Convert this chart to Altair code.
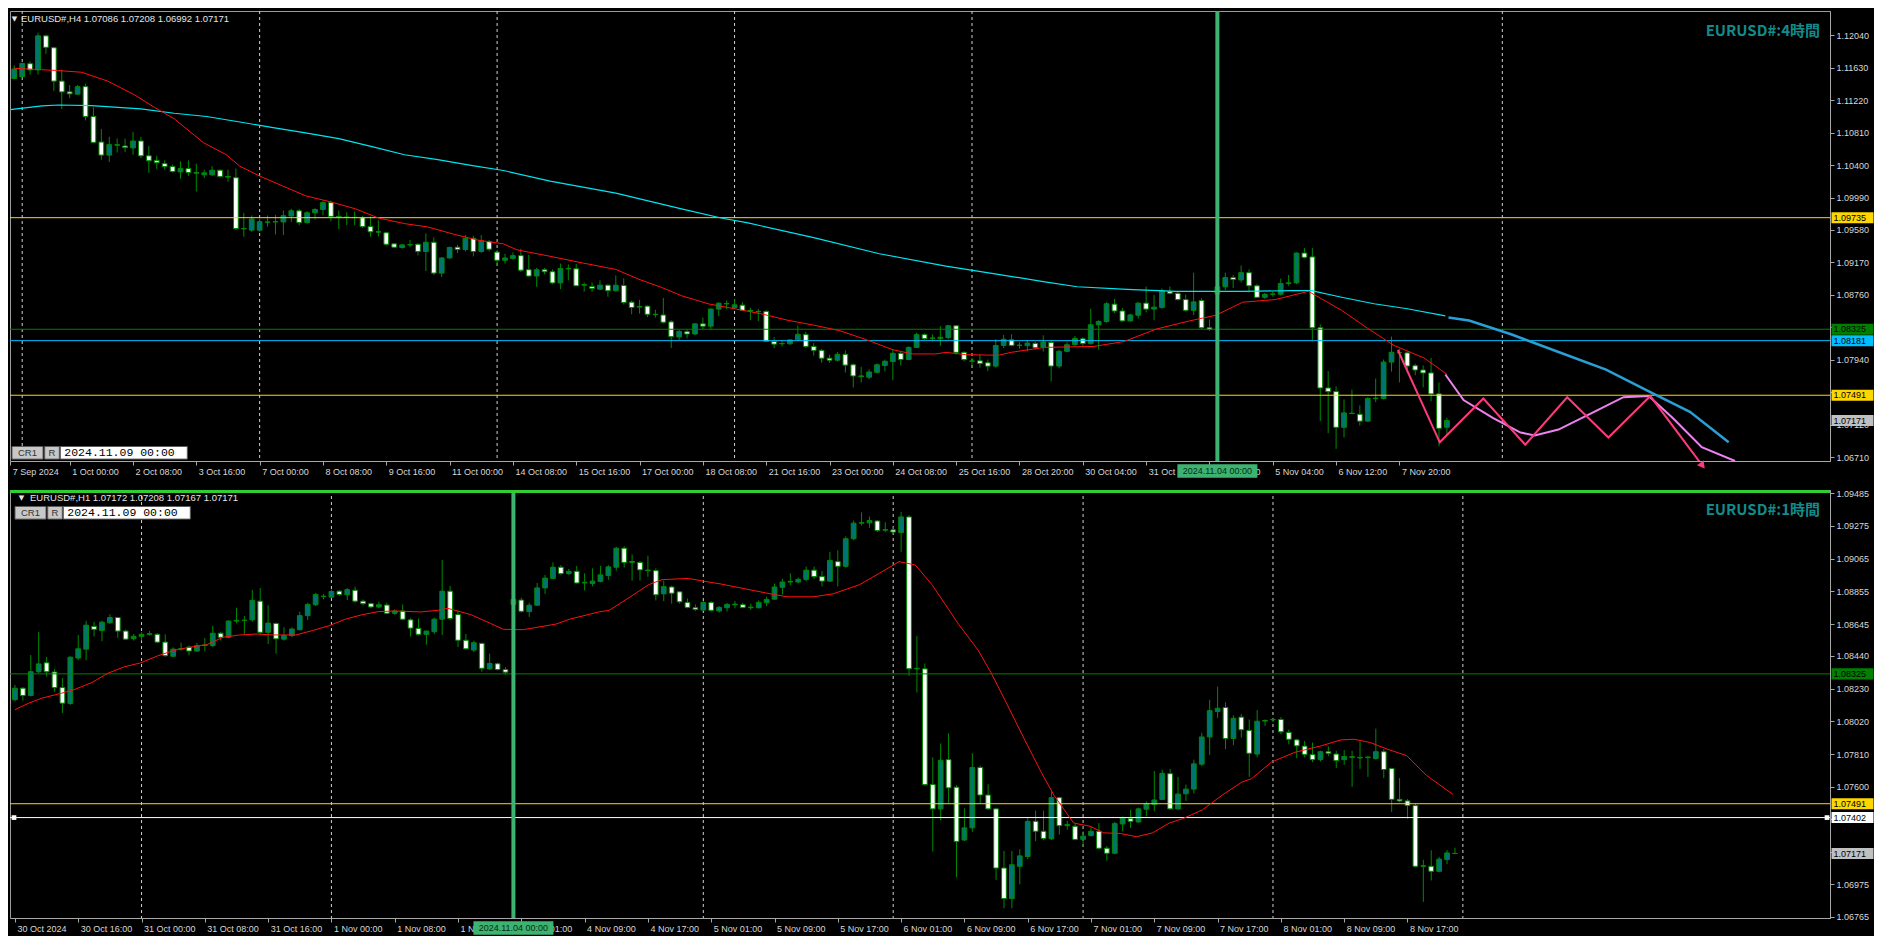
import altair as alt
import pandas as pd

# ======================= H4 panel data =======================
top_open = [
    1.11494, 1.11519, 1.11681, 1.11602, 1.12033, 1.11883, 1.11461, 1.11325, 1.11296, 1.11391,
    1.11014, 1.10691, 1.10526, 1.10650, 1.10641, 1.10617, 1.10704, 1.10517, 1.10459, 1.10418,
    1.10381, 1.10314, 1.10356, 1.10306, 1.10277, 1.10277, 1.10335, 1.10256, 1.10240, 1.09598,
    1.09577, 1.09577, 1.09677, 1.09681, 1.09681, 1.09756, 1.09822, 1.09673, 1.09797, 1.09838,
    1.09925, 1.09751, 1.09743, 1.09739, 1.09735, 1.09623, 1.09557, 1.09544, 1.09404, 1.09358,
    1.09391, 1.09399, 1.09308, 1.09424, 1.09035, 1.09226, 1.09362, 1.09333, 1.09474, 1.09308,
    1.09433, 1.09300, 1.09197, 1.09221, 1.09255, 1.09077, 1.08998, 1.09077, 1.09052, 1.08911,
    1.09093, 1.09089, 1.08882, 1.08865, 1.08832, 1.08882, 1.08812, 1.08878, 1.08667, 1.08605,
    1.08617, 1.08514, 1.08505, 1.08418, 1.08228, 1.08294, 1.08265, 1.08393, 1.08364, 1.08580,
    1.08646, 1.08600, 1.08629, 1.08563, 1.08551, 1.08551, 1.08170, 1.08141, 1.08141, 1.08191,
    1.08257, 1.08108, 1.08058, 1.07959, 1.07934, 1.08008, 1.07876, 1.07735, 1.07719, 1.07781,
    1.07868, 1.07917, 1.08021, 1.07942, 1.08095, 1.08257, 1.08211, 1.08207, 1.08220, 1.08369,
    1.08033, 1.07921, 1.07926, 1.07901, 1.07859, 1.08121, 1.08191, 1.08121, 1.08117, 1.08146,
    1.08100, 1.08158, 1.07860, 1.08046, 1.08129, 1.08204, 1.08146, 1.08382, 1.08423, 1.08642,
    1.08556, 1.08431, 1.08502, 1.08655, 1.08580, 1.08601, 1.08804, 1.08779, 1.08700, 1.08564,
    1.08688, 1.08344, 1.08771, 1.08862, 1.08978, 1.08949, 1.09040, 1.08874, 1.08729, 1.08767,
    1.08767, 1.08903, 1.08912, 1.09288, 1.09239, 1.08344, 1.07583, 1.07537, 1.07086, 1.07264,
    1.07251, 1.07164, 1.07450, 1.07450, 1.07910, 1.08030, 1.08026, 1.07864, 1.07810, 1.07773,
    1.07508, 1.07086]
top_high = [
    1.11660, 1.11689, 1.11710, 1.12074, 1.12049, 1.11896, 1.11606, 1.11412, 1.11412, 1.11428,
    1.11130, 1.10857, 1.10757, 1.10737, 1.10733, 1.10819, 1.10757, 1.10641, 1.10517, 1.10459,
    1.10405, 1.10447, 1.10459, 1.10418, 1.10343, 1.10385, 1.10343, 1.10343, 1.10356, 1.09797,
    1.09764, 1.09722, 1.09764, 1.09772, 1.09826, 1.09847, 1.09847, 1.09818, 1.09855, 1.09950,
    1.09950, 1.09826, 1.09805, 1.09813, 1.09756, 1.09751, 1.09702, 1.09557, 1.09416, 1.09408,
    1.09453, 1.09412, 1.09536, 1.09486, 1.09238, 1.09370, 1.09391, 1.09515, 1.09507, 1.09515,
    1.09453, 1.09329, 1.09279, 1.09296, 1.09342, 1.09267, 1.09101, 1.09101, 1.09081, 1.09155,
    1.09143, 1.09151, 1.08915, 1.08915, 1.08944, 1.08894, 1.09006, 1.08969, 1.08687, 1.08696,
    1.08625, 1.08571, 1.08721, 1.08439, 1.08315, 1.08323, 1.08406, 1.08472, 1.08592, 1.08667,
    1.08687, 1.08708, 1.08667, 1.08596, 1.08584, 1.08563, 1.08224, 1.08182, 1.08199, 1.08369,
    1.08294, 1.08149, 1.08075, 1.08004, 1.08037, 1.08058, 1.07893, 1.07851, 1.07818, 1.07893,
    1.07942, 1.08075, 1.08046, 1.08108, 1.08282, 1.08273, 1.08261, 1.08364, 1.08381, 1.08377,
    1.08046, 1.07963, 1.08004, 1.07942, 1.08199, 1.08253, 1.08262, 1.08162, 1.08183, 1.08166,
    1.08249, 1.08191, 1.08067, 1.08158, 1.08241, 1.08224, 1.08584, 1.08440, 1.08667, 1.08709,
    1.08593, 1.08522, 1.08667, 1.08866, 1.08758, 1.08841, 1.08866, 1.08800, 1.08763, 1.09040,
    1.08717, 1.08448, 1.08895, 1.09040, 1.09011, 1.09131, 1.09081, 1.08895, 1.08783, 1.08804,
    1.08965, 1.09011, 1.09297, 1.09350, 1.09350, 1.08386, 1.07798, 1.07603, 1.07438, 1.07562,
    1.07363, 1.07467, 1.07703, 1.07943, 1.08233, 1.08079, 1.08046, 1.07889, 1.07868, 1.07963,
    1.07653, 1.07208]
top_low = [
    1.11482, 1.11511, 1.11544, 1.11544, 1.11805, 1.11337, 1.11109, 1.11246, 1.11287, 1.10964,
    1.10675, 1.10468, 1.10439, 1.10559, 1.10563, 1.10530, 1.10488, 1.10302, 1.10352, 1.10343,
    1.10306, 1.10227, 1.10261, 1.10066, 1.10236, 1.10261, 1.10240, 1.10190, 1.09577, 1.09495,
    1.09557, 1.09557, 1.09623, 1.09524, 1.09515, 1.09681, 1.09640, 1.09660, 1.09714, 1.09764,
    1.09689, 1.09590, 1.09640, 1.09640, 1.09606, 1.09495, 1.09495, 1.09383, 1.09350, 1.09342,
    1.09362, 1.09259, 1.09060, 1.09010, 1.08985, 1.09217, 1.09288, 1.09308, 1.09246, 1.09288,
    1.09308, 1.09122, 1.09155, 1.09205, 1.09048, 1.08985, 1.08861, 1.09019, 1.08894, 1.08832,
    1.08944, 1.08870, 1.08799, 1.08799, 1.08820, 1.08737, 1.08800, 1.08638, 1.08514, 1.08522,
    1.08480, 1.08472, 1.08398, 1.08087, 1.08191, 1.08211, 1.08253, 1.08323, 1.08323, 1.08489,
    1.08580, 1.08580, 1.08555, 1.08439, 1.08427, 1.08162, 1.08087, 1.08108, 1.08128, 1.08178,
    1.08091, 1.07992, 1.07901, 1.07901, 1.07917, 1.07777, 1.07590, 1.07652, 1.07694, 1.07768,
    1.07793, 1.07681, 1.07868, 1.07934, 1.08087, 1.08191, 1.08170, 1.08116, 1.08199, 1.08004,
    1.07921, 1.07851, 1.07839, 1.07797, 1.07839, 1.08088, 1.08108, 1.08079, 1.08046, 1.08067,
    1.08042, 1.07665, 1.07831, 1.08034, 1.08117, 1.08117, 1.08129, 1.08067, 1.08406, 1.08531,
    1.08419, 1.08419, 1.08460, 1.08539, 1.08440, 1.08584, 1.08763, 1.08688, 1.08551, 1.08502,
    1.08328, 1.08303, 1.08750, 1.08820, 1.08845, 1.08916, 1.08791, 1.08721, 1.08709, 1.08738,
    1.08750, 1.08874, 1.08895, 1.09218, 1.08191, 1.07164, 1.07011, 1.06813, 1.06957, 1.07251,
    1.07107, 1.07156, 1.07405, 1.07438, 1.07790, 1.07653, 1.07769, 1.07744, 1.07591, 1.07417,
    1.06846, 1.06992]
top_close = [
    1.11614, 1.11685, 1.11602, 1.12033, 1.11888, 1.11461, 1.11325, 1.11300, 1.11391, 1.11014,
    1.10687, 1.10526, 1.10658, 1.10658, 1.10621, 1.10704, 1.10517, 1.10455, 1.10430, 1.10381,
    1.10319, 1.10356, 1.10306, 1.10298, 1.10302, 1.10335, 1.10256, 1.10248, 1.09598, 1.09594,
    1.09718, 1.09685, 1.09681, 1.09685, 1.09760, 1.09822, 1.09673, 1.09797, 1.09838, 1.09925,
    1.09751, 1.09743, 1.09739, 1.09735, 1.09623, 1.09557, 1.09553, 1.09399, 1.09362, 1.09391,
    1.09395, 1.09308, 1.09424, 1.09035, 1.09226, 1.09358, 1.09333, 1.09474, 1.09308, 1.09441,
    1.09337, 1.09197, 1.09226, 1.09255, 1.09072, 1.08998, 1.09077, 1.09052, 1.08911, 1.09093,
    1.09089, 1.08874, 1.08890, 1.08841, 1.08882, 1.08812, 1.08882, 1.08663, 1.08600, 1.08613,
    1.08514, 1.08509, 1.08414, 1.08232, 1.08298, 1.08265, 1.08393, 1.08364, 1.08580, 1.08654,
    1.08650, 1.08634, 1.08563, 1.08555, 1.08547, 1.08170, 1.08137, 1.08145, 1.08191, 1.08261,
    1.08108, 1.08058, 1.07959, 1.07934, 1.08008, 1.07872, 1.07735, 1.07727, 1.07785, 1.07876,
    1.07921, 1.08021, 1.07942, 1.08095, 1.08257, 1.08207, 1.08215, 1.08224, 1.08369, 1.08033,
    1.07942, 1.07925, 1.07893, 1.07859, 1.08120, 1.08199, 1.08121, 1.08125, 1.08150, 1.08092,
    1.08162, 1.07860, 1.08046, 1.08129, 1.08208, 1.08146, 1.08382, 1.08423, 1.08647, 1.08556,
    1.08431, 1.08506, 1.08655, 1.08580, 1.08605, 1.08812, 1.08779, 1.08700, 1.08564, 1.08671,
    1.08344, 1.08324, 1.08862, 1.08978, 1.08953, 1.09040, 1.08874, 1.08729, 1.08767, 1.08771,
    1.08903, 1.08912, 1.09288, 1.09234, 1.08344, 1.07583, 1.07537, 1.07086, 1.07268, 1.07260,
    1.07164, 1.07450, 1.07454, 1.07910, 1.08034, 1.08030, 1.07860, 1.07810, 1.07773, 1.07508,
    1.07073, 1.07171]

top_red_idx = [0, 5.6, 8.5, 11.8, 15.2, 17.7, 20.2, 23.9, 26.8, 28.5, 31, 33.9, 36.8, 40.2, 43.1,
               46, 49.3, 52.2, 55.6, 58.5, 61.8, 63.5, 67.7, 71.8, 76, 78.9, 81.8, 84.3, 87.7, 91,
               94.3, 97.7, 101, 104.3, 107.7, 111, 113.5, 116.4, 117.7, 120.2, 124.3, 126, 130.2,
               136.4, 140.2, 144.3, 148.5, 151.8, 155.2, 159.3, 163.5, 167.7, 171, 174.3, 178.1, 181]
top_red_val = [1.11623, 1.11594, 1.11573, 1.11461, 1.11287, 1.11130, 1.10985, 1.10683, 1.10530,
               1.10385, 1.10261, 1.10136, 1.10012, 1.09929, 1.09847, 1.09731, 1.09660, 1.09619,
               1.09524, 1.09453, 1.09404, 1.09329, 1.09247, 1.09163, 1.09081, 1.08957, 1.08853,
               1.08749, 1.08646, 1.08584, 1.08522, 1.08439, 1.08377, 1.08307, 1.08191, 1.08066,
               1.08013, 1.08013, 1.08033, 1.08004, 1.07996, 1.08034, 1.08096, 1.08108, 1.08170,
               1.08328, 1.08431, 1.08502, 1.08667, 1.08700, 1.08804, 1.08564, 1.08336, 1.08121,
               1.07963, 1.07756]
top_cyan_idx = [-0.5, 3.5, 5.6, 9.75, 16, 20.2, 24.3, 28.5, 32.7, 36.8, 41, 45.2, 49.3, 53.5, 57.7,
                61.8, 67.7, 76, 84.3, 89.3, 92.7, 101, 109.3, 117.7, 124.3, 130.2, 134.3, 140.6,
                146.8, 155.2, 161.4, 163.9, 167.7, 171.8, 176, 180.8]
top_cyan_val = [1.11101, 1.11147, 1.11159, 1.11151, 1.11109, 1.11055, 1.11014, 1.10944, 1.10873,
                1.10807, 1.10733, 1.10633, 1.10530, 1.10468, 1.10397, 1.10331, 1.10198, 1.10045,
                1.09847, 1.09731, 1.09669, 1.09482, 1.09279, 1.09122, 1.09019, 1.08924, 1.08862,
                1.08829, 1.08804, 1.08804, 1.08812, 1.08812, 1.08729, 1.08647, 1.08584, 1.08493]
top_proj_idx = [181.2, 183.8, 189.1, 195.1, 201.1, 207.2, 211.7, 216.6]
top_proj_val = [1.08473, 1.08436, 1.08262, 1.08038, 1.07815, 1.07504, 1.07281, 1.06896]
top_pink_idx = [174.8, 180.1, 185.6, 190.9, 196.2, 201.4, 206.7, 213.2]
top_pink_val = [1.08063, 1.06896, 1.07450, 1.06866, 1.07465, 1.06957, 1.07480, 1.06613]
top_violet_idx = [180.8, 183.1, 186.8, 190.3, 192.1, 195.1, 199.6, 203.3, 206.5, 209.5, 213.2, 217.4]
top_violet_val = [1.07753, 1.07430, 1.07206, 1.07020, 1.06983, 1.07057, 1.07281, 1.07467, 1.07480,
                  1.07206, 1.06834, 1.06660]

top_levels = [1.09735, 1.08325, 1.08181, 1.07491]
top_level_colors = ["#ffd700", "#008000", "#00bfff", "#ffd700"]
top_badges = [1.09735, 1.08325, 1.08181, 1.07491, 1.07171]
top_badge_colors = ["#ffd700", "#008000", "#00bfff", "#ffd700", "#c0c0c0"]
top_grid_idx = [1, 31, 61, 91, 121, 188]
top_cursor_idx = [152]
top_tick_idx = [-0.5, 7, 15, 23, 31, 39, 47, 55, 63, 71, 79, 87, 95, 103, 111, 119, 127, 135, 143,
                151, 159, 167, 175]
top_tick_lbl = ["7 Sep 2024", "1 Oct 00:00", "2 Oct 08:00", "3 Oct 16:00", "7 Oct 00:00",
                "8 Oct 08:00", "9 Oct 16:00", "11 Oct 00:00", "14 Oct 08:00", "15 Oct 16:00",
                "17 Oct 00:00", "18 Oct 08:00", "21 Oct 16:00", "23 Oct 00:00", "24 Oct 08:00",
                "25 Oct 16:00", "28 Oct 20:00", "30 Oct 04:00", "31 Oct 12:00", "1 Nov 20:00",
                "5 Nov 04:00", "6 Nov 12:00", "7 Nov 20:00"]
top_price_ticks = [1.12040, 1.11630, 1.11220, 1.10810, 1.10400, 1.09990, 1.09580, 1.09170,
                   1.08760, 1.08350, 1.07940, 1.07530, 1.07120, 1.06710]
top_price_hidden = [1.08350, 1.07530]   # ticks whose labels sit under a price badge
top_header = "EURUSD#,H4  1.07086 1.07208 1.06992 1.07171"
top_title = "EURUSD#:4時間"

# ======================= H1 panel data =======================
bot_open = [
    1.08159, 1.08233, 1.08186, 1.08339, 1.08396, 1.08337, 1.08237, 1.08135, 1.08427, 1.08484,
    1.08630, 1.08603, 1.08653, 1.08687, 1.08600, 1.08551, 1.08566, 1.08579, 1.08579, 1.08529,
    1.08438, 1.08484, 1.08497, 1.08472, 1.08507, 1.08507, 1.08586, 1.08560, 1.08664, 1.08668,
    1.08672, 1.08792, 1.08592, 1.08649, 1.08548, 1.08571, 1.08609, 1.08699, 1.08769, 1.08822,
    1.08818, 1.08856, 1.08833, 1.08862, 1.08792, 1.08776, 1.08755, 1.08767, 1.08714, 1.08729,
    1.08672, 1.08617, 1.08579, 1.08596, 1.08676, 1.08856, 1.08706, 1.08541, 1.08478, 1.08521,
    1.08357, 1.08390, 1.08353, 1.08771, 1.08799, 1.08725, 1.08766, 1.08877, 1.08938, 1.09010,
    1.08969, 1.08984, 1.08909, 1.08905, 1.08919, 1.08957, 1.09010, 1.09132, 1.09046, 1.09041,
    1.08988, 1.08988, 1.08839, 1.08883, 1.08852, 1.08784, 1.08750, 1.08735, 1.08784, 1.08729,
    1.08750, 1.08769, 1.08769, 1.08750, 1.08750, 1.08782, 1.08805, 1.08881, 1.08915, 1.08915,
    1.08932, 1.08991, 1.08950, 1.08921, 1.09046, 1.09016, 1.09193, 1.09293, 1.09295, 1.09307,
    1.09248, 1.09250, 1.09233, 1.09333, 1.08358, 1.08357, 1.07614, 1.07458, 1.07774, 1.07597,
    1.07258, 1.07336, 1.07724, 1.07547, 1.07458, 1.07078, 1.06882, 1.07089, 1.07152, 1.07378,
    1.07314, 1.07266, 1.07530, 1.07350, 1.07346, 1.07262, 1.07287, 1.07314, 1.07205, 1.07173,
    1.07361, 1.07395, 1.07374, 1.07456, 1.07487, 1.07519, 1.07684, 1.07458, 1.07555, 1.07585,
    1.07745, 1.07920, 1.08083, 1.08109, 1.07910, 1.08047, 1.07962, 1.07810, 1.08026, 1.08030,
    1.08032, 1.07949, 1.07901, 1.07861, 1.07806, 1.07774, 1.07825, 1.07810, 1.07774, 1.07789,
    1.07785, 1.07787, 1.07781, 1.07825, 1.07717, 1.07519, 1.07509, 1.07479, 1.07089, 1.07089,
    1.07057, 1.07133, 1.07172]
bot_high = [
    1.08254, 1.08239, 1.08446, 1.08594, 1.08434, 1.08355, 1.08297, 1.08438, 1.08575, 1.08666,
    1.08659, 1.08666, 1.08708, 1.08691, 1.08609, 1.08581, 1.08592, 1.08600, 1.08586, 1.08579,
    1.08495, 1.08526, 1.08507, 1.08524, 1.08556, 1.08634, 1.08596, 1.08670, 1.08750, 1.08697,
    1.08864, 1.08877, 1.08766, 1.08655, 1.08624, 1.08624, 1.08725, 1.08782, 1.08845, 1.08839,
    1.08866, 1.08864, 1.08877, 1.08885, 1.08803, 1.08782, 1.08788, 1.08782, 1.08739, 1.08771,
    1.08683, 1.08681, 1.08603, 1.08687, 1.09056, 1.08890, 1.08733, 1.08581, 1.08539, 1.08525,
    1.08455, 1.08398, 1.08368, 1.08814, 1.08814, 1.08782, 1.08909, 1.08961, 1.09041, 1.09024,
    1.08999, 1.09018, 1.08971, 1.09003, 1.09018, 1.09024, 1.09141, 1.09145, 1.09092, 1.09049,
    1.09084, 1.09003, 1.08923, 1.08892, 1.08856, 1.08809, 1.08771, 1.08792, 1.08792, 1.08761,
    1.08782, 1.08792, 1.08782, 1.08776, 1.08797, 1.08820, 1.08905, 1.08936, 1.08971, 1.08944,
    1.09014, 1.09014, 1.08986, 1.09109, 1.09119, 1.09208, 1.09310, 1.09362, 1.09335, 1.09314,
    1.09299, 1.09267, 1.09366, 1.09345, 1.08569, 1.08392, 1.07789, 1.07878, 1.07943, 1.07610,
    1.07462, 1.07815, 1.07736, 1.07616, 1.07466, 1.07188, 1.07188, 1.07198, 1.07399, 1.07447,
    1.07447, 1.07572, 1.07536, 1.07382, 1.07361, 1.07314, 1.07346, 1.07367, 1.07219, 1.07374,
    1.07409, 1.07452, 1.07466, 1.07505, 1.07700, 1.07711, 1.07715, 1.07663, 1.07614, 1.07774,
    1.07947, 1.08159, 1.08243, 1.08142, 1.08059, 1.08067, 1.08032, 1.08092, 1.08032, 1.08042,
    1.08047, 1.07968, 1.07909, 1.07894, 1.07884, 1.07831, 1.07859, 1.07831, 1.07836, 1.07831,
    1.07890, 1.07796, 1.07973, 1.07842, 1.07722, 1.07656, 1.07521, 1.07494, 1.07131, 1.07192,
    1.07150, 1.07194, 1.07208]
bot_low = [
    1.08148, 1.08154, 1.08180, 1.08329, 1.08308, 1.08211, 1.08074, 1.08126, 1.08413, 1.08413,
    1.08565, 1.08535, 1.08645, 1.08556, 1.08544, 1.08539, 1.08539, 1.08571, 1.08525, 1.08434,
    1.08432, 1.08474, 1.08444, 1.08465, 1.08470, 1.08497, 1.08539, 1.08556, 1.08649, 1.08581,
    1.08659, 1.08581, 1.08517, 1.08455, 1.08539, 1.08560, 1.08603, 1.08670, 1.08761, 1.08803,
    1.08814, 1.08826, 1.08799, 1.08782, 1.08766, 1.08746, 1.08746, 1.08708, 1.08704, 1.08670,
    1.08565, 1.08571, 1.08513, 1.08581, 1.08575, 1.08670, 1.08497, 1.08482, 1.08465, 1.08339,
    1.08350, 1.08346, 1.08320, 1.08761, 1.08718, 1.08691, 1.08761, 1.08839, 1.08932, 1.08961,
    1.08961, 1.08905, 1.08860, 1.08887, 1.08913, 1.08929, 1.08988, 1.09008, 1.08923, 1.08925,
    1.08948, 1.08797, 1.08792, 1.08776, 1.08776, 1.08746, 1.08729, 1.08729, 1.08725, 1.08718,
    1.08725, 1.08746, 1.08746, 1.08735, 1.08744, 1.08761, 1.08801, 1.08835, 1.08894, 1.08907,
    1.08919, 1.08936, 1.08887, 1.08915, 1.08887, 1.09008, 1.09183, 1.09278, 1.09263, 1.09236,
    1.09236, 1.09225, 1.09109, 1.08312, 1.08205, 1.07606, 1.07184, 1.07384, 1.07494, 1.07019,
    1.07251, 1.07310, 1.07494, 1.07452, 1.07002, 1.06819, 1.06819, 1.06973, 1.07135, 1.07251,
    1.07256, 1.07258, 1.07293, 1.07325, 1.07256, 1.07215, 1.07279, 1.07198, 1.07125, 1.07167,
    1.07314, 1.07336, 1.07367, 1.07409, 1.07442, 1.07515, 1.07452, 1.07452, 1.07509, 1.07557,
    1.07732, 1.07804, 1.08042, 1.07842, 1.07867, 1.07916, 1.07663, 1.07789, 1.07990, 1.08015,
    1.07937, 1.07873, 1.07783, 1.07789, 1.07758, 1.07762, 1.07796, 1.07720, 1.07741, 1.07600,
    1.07715, 1.07663, 1.07774, 1.07656, 1.07438, 1.07500, 1.07395, 1.07083, 1.06861, 1.06998,
    1.07051, 1.07103, 1.07167]
bot_close = [
    1.08233, 1.08186, 1.08339, 1.08389, 1.08339, 1.08237, 1.08137, 1.08432, 1.08486, 1.08638,
    1.08611, 1.08657, 1.08687, 1.08600, 1.08548, 1.08566, 1.08579, 1.08583, 1.08529, 1.08442,
    1.08484, 1.08488, 1.08472, 1.08507, 1.08511, 1.08586, 1.08560, 1.08664, 1.08668, 1.08670,
    1.08797, 1.08592, 1.08651, 1.08550, 1.08571, 1.08613, 1.08699, 1.08771, 1.08835, 1.08824,
    1.08854, 1.08835, 1.08866, 1.08792, 1.08776, 1.08755, 1.08769, 1.08714, 1.08729, 1.08676,
    1.08619, 1.08579, 1.08600, 1.08676, 1.08856, 1.08681, 1.08541, 1.08486, 1.08525, 1.08361,
    1.08392, 1.08353, 1.08336, 1.08803, 1.08727, 1.08766, 1.08877, 1.08940, 1.09010, 1.08969,
    1.08984, 1.08909, 1.08913, 1.08921, 1.08961, 1.09012, 1.09132, 1.09041, 1.09042, 1.08993,
    1.08992, 1.08833, 1.08885, 1.08843, 1.08788, 1.08752, 1.08739, 1.08784, 1.08733, 1.08752,
    1.08771, 1.08773, 1.08752, 1.08754, 1.08784, 1.08803, 1.08883, 1.08915, 1.08919, 1.08932,
    1.08991, 1.08950, 1.08921, 1.09054, 1.09016, 1.09193, 1.09293, 1.09297, 1.09310, 1.09246,
    1.09252, 1.09236, 1.09333, 1.08358, 1.08361, 1.07614, 1.07458, 1.07770, 1.07593, 1.07249,
    1.07336, 1.07724, 1.07547, 1.07458, 1.07078, 1.06882, 1.07099, 1.07156, 1.07378, 1.07314,
    1.07268, 1.07530, 1.07350, 1.07357, 1.07262, 1.07283, 1.07314, 1.07205, 1.07173, 1.07363,
    1.07399, 1.07378, 1.07458, 1.07492, 1.07515, 1.07686, 1.07458, 1.07553, 1.07585, 1.07747,
    1.07920, 1.08089, 1.08104, 1.07910, 1.08040, 1.07966, 1.07815, 1.08021, 1.08022, 1.08032,
    1.07953, 1.07905, 1.07863, 1.07808, 1.07774, 1.07825, 1.07815, 1.07768, 1.07794, 1.07793,
    1.07789, 1.07791, 1.07825, 1.07711, 1.07519, 1.07509, 1.07479, 1.07089, 1.07093, 1.07057,
    1.07135, 1.07175, 1.07171]

bot_red_idx = [0, 1.75, 3.4, 5.9, 7.6, 9.7, 11.75, 13.8, 15.9, 18, 20.1, 22.2, 24.25, 26.3, 28.4,
               30.5, 32.6, 35.5, 37.6, 39.7, 41.75, 43.8, 45.9, 48, 51.3, 53.4, 54.7, 57.6, 60.1,
               61.75, 64.25, 68.4, 70.1, 73.8, 75.1, 77.6, 80.1, 81.75, 85.1, 86.75, 89.25, 93.4,
               95.9, 97.6, 100.9, 103.4, 106.75, 109.25, 111.75, 113.8, 115.9, 119.25, 121.75,
               123.4, 125.1, 126.75, 128, 129.7, 131.3, 133.8, 135.9, 137.6, 139.7, 141.75, 143.8,
               145.9, 147.6, 150.1, 152.6, 155.1, 156.3, 158.8, 161.75, 165.1, 167.6, 169.25,
               171.3, 173.4, 175.9, 178.4, 181.75]
bot_red_val = [1.08095, 1.08137, 1.08169, 1.08201, 1.08226, 1.08269, 1.08329, 1.08370, 1.08396,
               1.08440, 1.08476, 1.08497, 1.08513, 1.08560, 1.08575, 1.08581, 1.08575, 1.08575,
               1.08603, 1.08634, 1.08676, 1.08704, 1.08725, 1.08729, 1.08723, 1.08733, 1.08746,
               1.08706, 1.08649, 1.08611, 1.08609, 1.08645, 1.08676, 1.08723, 1.08733, 1.08814,
               1.08898, 1.08930, 1.08938, 1.08923, 1.08902, 1.08860, 1.08835, 1.08820, 1.08820,
               1.08839, 1.08898, 1.08971, 1.09046, 1.09024, 1.08898, 1.08645, 1.08476, 1.08329,
               1.08159, 1.07990, 1.07863, 1.07694, 1.07547, 1.07367, 1.07346, 1.07304, 1.07300,
               1.07279, 1.07304, 1.07367, 1.07395, 1.07452, 1.07547, 1.07631, 1.07652, 1.07758,
               1.07821, 1.07863, 1.07901, 1.07905, 1.07884, 1.07842, 1.07800, 1.07673, 1.07551]

bot_levels = [1.08325, 1.07491, 1.07402]
bot_level_colors = ["#008000", "#ffd700", "#ffffff"]
bot_badges = [1.08325, 1.07491, 1.07402, 1.07171]
bot_badge_colors = ["#008000", "#ffd700", "#ffffff", "#c0c0c0"]
bot_grid_idx = [16, 40, 87, 111, 135, 159, 183]
bot_cursor_idx = [63]
bot_tick_idx = [0, 8, 16, 24, 32, 40, 48, 56, 64, 72, 80, 88, 96, 104, 112, 120, 128, 136, 144,
                152, 160, 168, 176]
bot_tick_lbl = ["30 Oct 2024", "30 Oct 16:00", "31 Oct 00:00", "31 Oct 08:00", "31 Oct 16:00",
                "1 Nov 00:00", "1 Nov 08:00", "1 Nov 16:00", "4 Nov 01:00", "4 Nov 09:00",
                "4 Nov 17:00", "5 Nov 01:00", "5 Nov 09:00", "5 Nov 17:00", "6 Nov 01:00",
                "6 Nov 09:00", "6 Nov 17:00", "7 Nov 01:00", "7 Nov 09:00", "7 Nov 17:00",
                "8 Nov 01:00", "8 Nov 09:00", "8 Nov 17:00"]
bot_price_ticks = [1.09485, 1.09275, 1.09065, 1.08855, 1.08645, 1.08440, 1.08230, 1.08020,
                   1.07810, 1.07600, 1.07390, 1.07180, 1.06975, 1.06765]
bot_price_hidden = [1.07390, 1.07180]
bot_header = "EURUSD#,H1  1.07172 1.07208 1.07167 1.07171"
bot_title = "EURUSD#:1時間"

cursor_text = "2024.11.04 00:00"
cr_date = "2024.11.09 00:00"

# ======================= styling =======================
W = 1820
H_TOP = 450
H_BOT = 428
FONT = "Liberation Sans"
BULL = "#007373"
BEAR = "#ffffff"
EDGE = "#008a00"
AXC = "#a8a8a8"
LBL = "#d8d8d8"
CURSOR = "#3cb371"
TITLE_C = "#138b8b"


def x_axis(vals, lbls):
    arr = ",".join("'%s'" % s for s in lbls)
    idx = ",".join(repr(v) for v in vals)
    return alt.Axis(values=vals, labelExpr="[%s][indexof([%s], datum.value)]" % (arr, idx),
                    title=None, grid=False, orient="bottom", labelAlign="left", labelOffset=2,
                    labelPadding=2, labelFont=FONT, labelFontSize=9, labelColor=LBL,
                    tickColor=AXC, tickSize=4, domainColor=AXC, labelOverlap=False,
                    labelFlush=False, labelBound=False)


def y_axis(vals, hidden):
    hid = ",".join(repr(v) for v in hidden)
    return alt.Axis(values=vals,
                    labelExpr="indexof([%s], datum.value) >= 0 ? '' : format(datum.value, '.5f')" % hid,
                    title=None, grid=False, orient="right", labelFont=FONT, labelFontSize=9,
                    labelColor=LBL, tickColor=AXC, tickSize=4, labelPadding=2, domainColor=AXC,
                    labelOverlap=False, labelFlush=False, labelBound=False)


def build_panel(o, h, l, c, xs, ys, xax, yax, H, grid_idx, levels, level_cols, badges, badge_cols,
                cursor_idx, lines):
    X = lambda f: alt.X(f + ":Q", scale=xs, axis=xax)
    Y = lambda f: alt.Y(f + ":Q", scale=ys, axis=yax)
    n = min(len(o), len(h), len(l), len(c))
    df = pd.DataFrame({"i": list(range(n)), "o": o[:n], "h": h[:n], "l": l[:n], "c": c[:n]})
    layers = []
    layers.append(alt.Chart(pd.DataFrame({"i": grid_idx})).mark_rule(
        color="#d0d0d0", strokeDash=[3, 3], strokeWidth=1).encode(x=X("i")))
    base = alt.Chart(df)
    layers.append(base.mark_rule(color=EDGE, strokeWidth=1, clip=True).encode(
        x=X("i"), y=Y("l"), y2="h:Q"))
    layers.append(base.transform_calculate(
        xa="datum.i - 0.3", xb="datum.i + 0.3",
        ya="min(datum.o, datum.c)", yb="max(datum.o, datum.c)").mark_rect(
        stroke=EDGE, strokeWidth=1, clip=True).encode(
        x=X("xa"), x2="xb:Q", y=Y("ya"), y2="yb:Q",
        fill=alt.condition("datum.c > datum.o", alt.value(BULL), alt.value(BEAR))))
    layers.append(alt.Chart(pd.DataFrame({"p": levels, "col": level_cols})).mark_rule(
        strokeWidth=1).encode(y=Y("p"), color=alt.Color("col:N", scale=None)))
    for idx, vals, col, sw in lines:
        layers.append(alt.Chart(pd.DataFrame({"i": idx, "v": vals})).mark_line(
            color=col, strokeWidth=sw, clip=True).encode(x=X("i"), y=Y("v")))
    layers.append(alt.Chart(pd.DataFrame({"i": cursor_idx})).mark_rule(
        color=CURSOR, strokeWidth=4).encode(x=X("i")))
    # cursor date badge on the time axis
    cdf = pd.DataFrame({"i": cursor_idx, "t": [cursor_text] * len(cursor_idx)})
    layers.append(alt.Chart(cdf).mark_point(
        shape="M-1,-0.17L1,-0.17L1,0.17L-1,0.17Z", size=6400, filled=True, opacity=1,
        color=CURSOR).encode(x=X("i"), y=alt.value(H + 10)))
    layers.append(alt.Chart(cdf).mark_text(
        font=FONT, fontSize=9, color="#0b2a12", align="center", baseline="middle").encode(
        x=X("i"), y=alt.value(H + 10), text="t:N"))
    # price badges on the price axis
    bdf = pd.DataFrame({"p": badges, "col": badge_cols, "t": ["%.5f" % b for b in badges]})
    layers.append(alt.Chart(bdf).mark_point(
        shape="M-1,-0.262L1,-0.262L1,0.262L-1,0.262Z", size=1764, filled=True, opacity=1,
        strokeWidth=0).encode(x=alt.value(W + 22.5), y=Y("p"),
                              fill=alt.Color("col:N", scale=None)))
    layers.append(alt.Chart(bdf).mark_text(
        font=FONT, fontSize=9, color="#000000", align="left", baseline="middle").encode(
        x=alt.value(W + 3.5), y=Y("p"), text="t:N"))
    return layers, X, Y


def ui_layers(header, title, hx, hy, tri_x, box_y0, box_x0):
    one = pd.DataFrame({"t": [header]})
    out = []
    out.append(alt.Chart(pd.DataFrame({"t": ["▼"]})).mark_text(
        font="DejaVu Sans", fontSize=7, color="#e6e6e6", align="center",
        baseline="middle").encode(x=alt.value(tri_x), y=alt.value(hy), text="t:N"))
    out.append(alt.Chart(one).mark_text(
        font=FONT, fontSize=9.5, color="#e6e6e6", align="left", baseline="middle").encode(
        x=alt.value(hx), y=alt.value(hy), text="t:N"))
    out.append(alt.Chart(pd.DataFrame({"t": [title]})).mark_text(
        font="Noto Sans CJK JP", fontSize=15, fontWeight="bold", color=TITLE_C, align="right",
        baseline="middle").encode(x=alt.value(W - 10), y=alt.value(20), text="t:N"))
    y0, y1 = box_y0, box_y0 + 12.6
    boxes = [(box_x0, box_x0 + 31, "#c8c8c8", "CR1", FONT, 9.5, "#333333"),
             (box_x0 + 32.7, box_x0 + 47.3, "#c8c8c8", "R", FONT, 9.5, "#333333"),
             (box_x0 + 48.3, box_x0 + 175.3, "#ffffff", cr_date, "Liberation Mono", 11.5, "#000000")]
    for a, b, fill, txt, fnt, fs, tc in boxes:
        d = pd.DataFrame({"t": [txt]})
        out.append(alt.Chart(d).mark_rect(fill=fill, stroke="#5a5a5a", strokeWidth=1).encode(
            x=alt.value(a), x2=alt.value(b), y=alt.value(y0), y2=alt.value(y1)))
        if fill == "#ffffff":
            out.append(alt.Chart(d).mark_text(font=fnt, fontSize=fs, color=tc, align="left",
                                              baseline="middle").encode(
                x=alt.value(a + 4), y=alt.value((y0 + y1) / 2 + 0.5), text="t:N"))
        else:
            out.append(alt.Chart(d).mark_text(font=fnt, fontSize=fs, color=tc, align="center",
                                              baseline="middle").encode(
                x=alt.value((a + b) / 2), y=alt.value((y0 + y1) / 2 + 0.5), text="t:N"))
    return out


# ----------------------- top panel -----------------------
xs_top = alt.Scale(domain=[-0.54, 229.4], nice=False, zero=False)
ys_top = alt.Scale(domain=[1.06660, 1.12347], nice=False, zero=False)
top_lines = [
    (top_cyan_idx, top_cyan_val, "#00e5f0", 1.2),
    (top_red_idx, top_red_val, "#ff1010", 1),
    (top_proj_idx, top_proj_val, "#2a9fd6", 2.5),
    (top_violet_idx, top_violet_val, "#ee82ee", 2),
    (top_pink_idx, top_pink_val, "#ff3a7c", 2),
]
t_layers, TX, TY = build_panel(top_open, top_high, top_low, top_close, xs_top, ys_top,
                               x_axis(top_tick_idx, top_tick_lbl),
                               y_axis(top_price_ticks, top_price_hidden), H_TOP,
                               top_grid_idx, top_levels, top_level_colors, top_badges,
                               top_badge_colors, top_cursor_idx, top_lines)
t_layers.append(alt.Chart(pd.DataFrame({"i": top_pink_idx[-1:], "v": top_pink_val[-1:]})).mark_point(
    shape="triangle", angle=143, size=70, filled=True, opacity=1, color="#ff3a7c").encode(
    x=TX("i"), y=TY("v")))
t_layers += ui_layers(top_header, top_title, 11, 8, 4.5, 435.5, 2)
top = alt.layer(*t_layers).properties(width=W, height=H_TOP)

# ----------------------- bottom panel -----------------------
xs_bot = alt.Scale(domain=[-0.625, 229.4], nice=False, zero=False)
ys_bot = alt.Scale(domain=[1.06757, 1.09506], nice=False, zero=False)
bot_lines = [(bot_red_idx, bot_red_val, "#ff1010", 1)]
b_layers, BX, BY = build_panel(bot_open, bot_high, bot_low, bot_close, xs_bot, ys_bot,
                               x_axis(bot_tick_idx, bot_tick_lbl),
                               y_axis(bot_price_ticks, bot_price_hidden), H_BOT,
                               bot_grid_idx, bot_levels, bot_level_colors, bot_badges,
                               bot_badge_colors, bot_cursor_idx, bot_lines)
# white level end markers
sq = pd.DataFrame({"p": [bot_levels[2]]})
for xv in (4, W - 3):
    b_layers.append(alt.Chart(sq).mark_point(shape="square", size=22, filled=True, opacity=1,
                                             color="#ffffff").encode(x=alt.value(xv), y=BY("p")))
# lime band on top of the H1 window
b_layers.append(alt.Chart(pd.DataFrame({"t": [0]})).mark_rule(
    color="#32cd32", strokeWidth=3).encode(x=alt.value(0), x2=alt.value(W), y=alt.value(1.5)))
b_layers += ui_layers(bot_header, bot_title, 20, 8, 11.5, 16.5, 5)
bot = alt.layer(*b_layers).properties(width=W, height=H_BOT)

chart = alt.vconcat(top, bot, spacing=8, padding=0, background="black").configure_view(
    stroke="#9a9a9a", strokeWidth=1)

chart.save("out.html", embed_options={"renderer": "svg", "actions": False})
